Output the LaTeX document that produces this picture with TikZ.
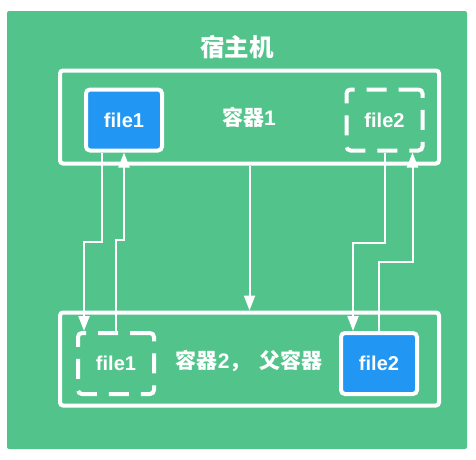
\documentclass[tikz,border=0pt]{standalone}
\usepackage{fontspec}
\setmainfont{Liberation Sans}
\newfontfamily\cjk{Noto Sans CJK SC}
\usetikzlibrary{arrows.meta}
\definecolor{hostgreen}{HTML}{52C48B}
\definecolor{fileblue}{HTML}{2196F3}

\begin{document}
\begin{tikzpicture}[x=1pt,y=-1pt,
    container/.style={draw=white,line width=4pt,rounded corners=3pt,minimum width=379pt,minimum height=93pt},
    filebox/.style={draw=white,line width=4pt,rounded corners=4pt,minimum width=76pt,minimum height=61pt,
      text=white,font=\bfseries\fontsize{20}{20}\selectfont},
    copied/.style={filebox,fill=fileblue},
    hidden/.style={filebox,dash pattern=on 20pt off 12pt},
    label/.style={text=white,font=\bfseries\fontsize{21}{21}\selectfont},
    flow/.style={draw=white,line width=2pt,-{Triangle[length=15pt,width=11pt]}}]
  \useasboundingbox (0,0) rectangle (476,459);
  \fill[hostgreen,rounded corners=2pt] (7,11) rectangle (467,449);
  \node[label,font=\bfseries\fontsize{24.5}{24.5}\selectfont] (host) at (237,47) {\cjk 宿主机};
  % 容器1
  \node[container] (c1) at (249.5,117) {};
  \node[label] (c1label) at (249,117) {{\cjk 容器}1};
  \node[copied] (fa1) at (124,120) {file1};
  \node[hidden] (fa2) at (384.5,120) {file2};
  % 容器2
  \node[container] (c2) at (249.5,359) {};
  \node[label] (c2label) at (249,361) {{\cjk 容器}2{\cjk ，\hspace{0.4em}父容器}};
  \node[hidden] (fb1) at (116,363.5) {file1};
  \node[copied] (fb2) at (379,363.5) {file2};
  % connectors
  \draw[flow] ([xshift=-22]fa1.south) -- ++(0,89) -| ([xshift=-32]fb1.north);
  \draw[flow] (fb1.north) -- ++(0,-91) -| (fa1.south);
  \draw[flow] (c1.south) -- (c2.north);
  \draw[flow] (fa2.south) -- ++(0,90) -| ([xshift=-26]fb2.north);
  \draw[flow] (fb2.north) -- ++(0,-69) -| ([xshift=28]fa2.south);
\end{tikzpicture}
\end{document}
